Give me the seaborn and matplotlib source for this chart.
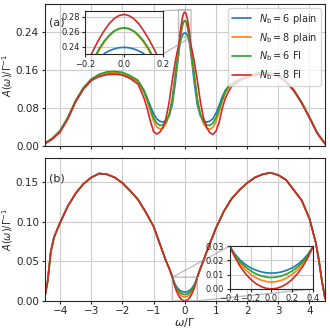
import matplotlib
matplotlib.use("Agg")
import matplotlib.pyplot as plt
import numpy as np
import pandas as pd
import seaborn as sns

# series names / colours
labels = [r'$N_\mathrm{b} = 6$ plain', r'$N_\mathrm{b} = 8$ plain',
          r'$N_\mathrm{b} = 6$ FI', r'$N_\mathrm{b} = 8$ FI']
colors = ['#1f77b4', '#ff7f0e', '#2ca02c', '#d62728']

# ---- panel (a) : values ----
x_a = [-4.5, -4.25, -4.0, -3.75, -3.5, -3.25, -3.0, -2.75, -2.5, -2.25, -2.0, -1.75, -1.5,
       -1.4, -1.3, -1.2, -1.1, -1.0, -0.9, -0.8, -0.7, -0.6, -0.5, -0.4, -0.3, -0.25, -0.2,
       -0.175, -0.15, -0.125, -0.1, -0.075, -0.05, -0.025, 0.0, 0.025, 0.05, 0.075, 0.1,
       0.125, 0.15, 0.175, 0.2, 0.25, 0.3, 0.4, 0.5, 0.6, 0.7, 0.8,
       0.9, 1.0, 1.1, 1.2, 1.3, 1.4, 1.5, 1.75, 2.0, 2.25, 2.5, 2.75, 3.0, 3.25, 3.5, 3.75,
       4.0, 4.25, 4.5]

a_6plain = [0.006, 0.017, 0.033, 0.061, 0.096, 0.122, 0.139, 0.149, 0.154, 0.155, 0.153, 0.146, 0.136,
            0.128, 0.117, 0.101, 0.084, 0.069, 0.058, 0.053, 0.051, 0.054, 0.064, 0.088, 0.136, 0.165,
            0.192, 0.206, 0.2175, 0.2255, 0.231, 0.2345, 0.237, 0.2385, 0.239, 0.2385, 0.237, 0.2345,
            0.231, 0.2255, 0.2175, 0.206, 0.192, 0.165, 0.136, 0.088, 0.064,
            0.054, 0.051, 0.053, 0.058, 0.070, 0.086, 0.104, 0.118, 0.126, 0.131, 0.140, 0.147, 0.152,
            0.155, 0.154, 0.148, 0.136, 0.118, 0.092, 0.061, 0.028, 0.006]
a_8plain = [0.006, 0.017, 0.033, 0.061, 0.096, 0.122, 0.140, 0.150, 0.155, 0.156, 0.154, 0.147, 0.137,
            0.124, 0.112, 0.094, 0.073, 0.053, 0.041, 0.037, 0.039, 0.048, 0.066, 0.098, 0.150, 0.174,
            0.198, 0.2115, 0.2245, 0.2365, 0.2465, 0.2545, 0.2603, 0.2638, 0.265, 0.2638, 0.2603, 0.2545,
            0.2465, 0.2365, 0.2245, 0.2115, 0.198, 0.174, 0.150, 0.098, 0.066,
            0.048, 0.039, 0.036, 0.040, 0.052, 0.072, 0.095, 0.113, 0.124, 0.130, 0.140, 0.147, 0.152,
            0.155, 0.154, 0.148, 0.136, 0.118, 0.092, 0.061, 0.028, 0.006]
a_6fi = [0.006, 0.017, 0.033, 0.061, 0.097, 0.124, 0.142, 0.152, 0.157, 0.158, 0.156, 0.149, 0.139,
         0.127, 0.115, 0.098, 0.078, 0.060, 0.049, 0.044, 0.045, 0.052, 0.068, 0.101, 0.154, 0.178,
         0.201, 0.2145, 0.227, 0.2385, 0.248, 0.2555, 0.261, 0.264, 0.265, 0.264, 0.261, 0.2555,
         0.248, 0.2385, 0.227, 0.2145, 0.201, 0.178, 0.154, 0.101, 0.068,
         0.052, 0.045, 0.044, 0.049, 0.060, 0.078, 0.098, 0.115, 0.126, 0.131, 0.141, 0.148, 0.153,
         0.156, 0.155, 0.149, 0.137, 0.119, 0.093, 0.062, 0.029, 0.006]
a_8fi = [0.005, 0.015, 0.030, 0.058, 0.094, 0.121, 0.139, 0.147, 0.151, 0.152, 0.150, 0.143, 0.131,
         0.116, 0.100, 0.078, 0.052, 0.031, 0.026, 0.030, 0.040, 0.060, 0.094, 0.140, 0.180, 0.197,
         0.213, 0.2265, 0.2395, 0.2515, 0.262, 0.271, 0.2775, 0.2815, 0.283, 0.2815, 0.2775, 0.271,
         0.262, 0.2515, 0.2395, 0.2265, 0.213, 0.197, 0.180, 0.140, 0.094,
         0.060, 0.040, 0.029, 0.025, 0.032, 0.050, 0.080, 0.101, 0.115, 0.126, 0.138, 0.145, 0.150,
         0.152, 0.152, 0.147, 0.135, 0.117, 0.091, 0.060, 0.027, 0.005]

# ---- panel (b) ----
x_b = [-4.5, -4.4, -4.3, -4.2, -4.0, -3.75, -3.5, -3.25, -3.0, -2.75, -2.5, -2.25, -2.0, -1.75,
       -1.5, -1.25, -1.0, -0.9, -0.8, -0.7, -0.6, -0.5,
       -0.4, -0.35, -0.3, -0.25, -0.2, -0.15, -0.1, -0.05, 0.0, 0.05, 0.1, 0.15, 0.2, 0.25, 0.3,
       0.35, 0.4,
       0.5, 0.6, 0.7, 0.8, 0.9, 1.0, 1.25, 1.5, 1.75, 2.0, 2.25, 2.5, 2.75, 3.0, 3.25, 3.5, 3.75,
       4.0, 4.2, 4.3, 4.4, 4.5]
b_left = [0.003, 0.025, 0.062, 0.080, 0.099, 0.120, 0.136, 0.148, 0.156, 0.161, 0.160, 0.156,
          0.149, 0.139, 0.128, 0.112, 0.094, 0.083, 0.072, 0.061, 0.050, 0.041]
b_right = [0.041, 0.051, 0.062, 0.072, 0.082, 0.092, 0.113, 0.129, 0.140, 0.149, 0.156, 0.160,
           0.162, 0.159, 0.153, 0.140, 0.127, 0.104, 0.074, 0.052, 0.025, 0.003]
b_core_6plain = [0.030, 0.0245, 0.0203, 0.0172, 0.0148, 0.0132, 0.0120, 0.0113, 0.0111,
                 0.0113, 0.0120, 0.0132, 0.0148, 0.0172, 0.0203, 0.0245, 0.030]
b_core_8plain = [0.030, 0.0230, 0.0175, 0.0135, 0.0103, 0.0079, 0.0062, 0.0052, 0.0048,
                 0.0052, 0.0062, 0.0079, 0.0103, 0.0135, 0.0175, 0.0230, 0.030]
b_core_6fi = [0.030, 0.0238, 0.0190, 0.0155, 0.0127, 0.0106, 0.0092, 0.0083, 0.0080,
              0.0083, 0.0092, 0.0106, 0.0127, 0.0155, 0.0190, 0.0238, 0.030]
b_core_8fi = [0.030, 0.0222, 0.0158, 0.0108, 0.0068, 0.0038, 0.0017, 0.0004, 0.0,
              0.0004, 0.0017, 0.0038, 0.0068, 0.0108, 0.0158, 0.0222, 0.030]

sns.set_style("ticks", {"axes.grid": True})
plt.rcParams['font.family'] = ['DejaVu Sans']
plt.rcParams['mathtext.fontset'] = 'dejavusans'

frames_a = []
for lab, vals in zip(labels, [a_6plain, a_8plain, a_6fi, a_8fi]):
    frames_a.append(pd.DataFrame({'w': x_a, 'A': vals, 'series': lab}))
df_a = pd.concat(frames_a)

frames_b = []
for lab, core in zip(labels, [b_core_6plain, b_core_8plain, b_core_6fi, b_core_8fi]):
    frames_b.append(pd.DataFrame({'w': x_b, 'A': b_left + core + b_right, 'series': lab}))
df_b = pd.concat(frames_b)

fig, (ax1, ax2) = plt.subplots(2, 1, figsize=(3.3, 3.31), dpi=100, sharex=True)
fig.subplots_adjust(left=0.135, right=0.985, top=0.988, bottom=0.091, hspace=0.085)

lw = 1.2
ylab = r'$A(\omega)/\Gamma^{-1}$'
sns.lineplot(data=df_a, x='w', y='A', hue='series', palette=colors, ax=ax1,
             sort=False, estimator=None, linewidth=lw)
h, l = ax1.get_legend_handles_labels()
ax1.legend(h, l, loc='upper right', fontsize=7, borderaxespad=0.4)
ax1.set_ylim(0, 0.3)
ax1.set_yticks([0, 0.08, 0.16, 0.24])
ax1.set_xlim(-4.5, 4.5)
ax1.set_xlabel('')
ax1.set_ylabel(ylab, fontsize=7)
ax1.yaxis.set_label_coords(-0.104, 0.5)
ax1.tick_params(labelsize=7.5, length=2.5, pad=1.5)
ax1.text(0.015, 0.87, '(a)', transform=ax1.transAxes, fontsize=8, va='center')

ins1 = ax1.inset_axes([0.145, 0.648, 0.276, 0.305])
sns.lineplot(data=df_a, x='w', y='A', hue='series', palette=colors, ax=ins1,
             sort=False, estimator=None, linewidth=lw, legend=False)
ins1.set_xlim(-0.2, 0.2)
ins1.set_ylim(0.23, 0.288)
ins1.set_xticks([-0.2, 0.0, 0.2])
ins1.set_yticks([0.24, 0.26, 0.28])
ins1.set_xlabel('')
ins1.set_ylabel('')
ins1.tick_params(labelsize=6, length=2.5, pad=1.5)
ax1.indicate_inset_zoom(ins1, edgecolor='0.5')

sns.lineplot(data=df_b, x='w', y='A', hue='series', palette=colors, ax=ax2,
             sort=False, estimator=None, linewidth=lw, legend=False)
ax2.set_ylim(0, 0.18)
ax2.set_yticks([0, 0.05, 0.10, 0.15])
ax2.set_xticks([-4, -3, -2, -1, 0, 1, 2, 3, 4])
ax2.set_xlabel(r'$\omega/\Gamma$', fontsize=8, labelpad=0)
ax2.set_ylabel(ylab, fontsize=7)
ax2.yaxis.set_label_coords(-0.104, 0.5)
ax2.tick_params(labelsize=7.5, length=2.5, pad=1.5)
ax2.text(0.015, 0.86, '(b)', transform=ax2.transAxes, fontsize=8, va='center')

ins2 = ax2.inset_axes([0.66, 0.084, 0.298, 0.30])
sns.lineplot(data=df_b, x='w', y='A', hue='series', palette=colors, ax=ins2,
             sort=False, estimator=None, linewidth=lw, legend=False)
ins2.set_xlim(-0.4, 0.4)
ins2.set_ylim(0, 0.03)
ins2.set_xticks([-0.4, -0.2, 0.0, 0.2, 0.4])
ins2.set_yticks([0, 0.01, 0.02, 0.03])
ins2.set_xlabel('')
ins2.set_ylabel('')
ins2.tick_params(labelsize=6, length=2.5, pad=1.5)
ax2.indicate_inset_zoom(ins2, edgecolor='0.5')

fig.savefig('out.png', dpi=100)
